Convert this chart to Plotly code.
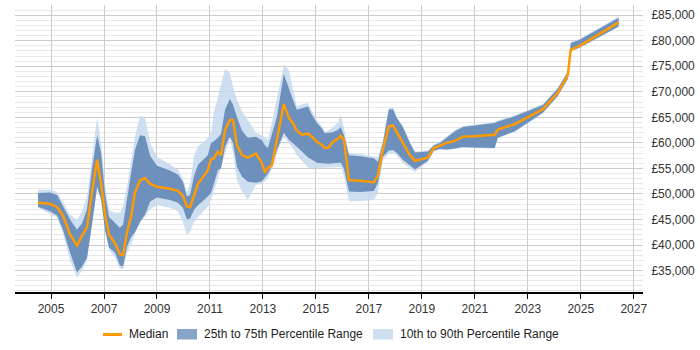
import plotly.graph_objects as go

years = [2004.51, 2004.96, 2005.23, 2005.45, 2005.72, 2005.98, 2006.17, 2006.36, 2006.55, 2006.74,
         2006.89, 2007.04, 2007.19, 2007.42, 2007.60, 2007.72, 2007.87, 2008.02, 2008.17, 2008.36,
         2008.55, 2008.74, 2009.00, 2009.49, 2009.79, 2009.98, 2010.13, 2010.25, 2010.40, 2010.55,
         2010.92, 2011.04, 2011.15, 2011.30, 2011.42, 2011.57, 2011.75, 2011.87, 2012.02, 2012.21,
         2012.43, 2012.74, 2012.96, 2013.08, 2013.19, 2013.34, 2013.53, 2013.79, 2013.98, 2014.13,
         2014.28, 2014.47, 2014.70, 2014.85, 2015.04, 2015.23, 2015.34, 2015.49, 2015.64, 2015.83,
         2015.94, 2016.06, 2016.25, 2016.66, 2017.19, 2017.34, 2017.53, 2017.75, 2017.91, 2018.06,
         2018.28, 2018.55, 2018.74, 2019.23, 2019.45, 2019.68, 2019.94, 2020.25, 2020.55, 2020.96,
         2021.75, 2021.87, 2022.51, 2023.57, 2024.13, 2024.51, 2024.62, 2024.96, 2026.43]

median = [48.3, 48.1, 47.4, 45.8, 42.0, 39.9, 41.8, 43.5, 50.5, 56.7,
          52.0, 46.0, 42.0, 40.3, 38.2, 38.0, 42.5, 45.5, 50.3, 52.7,
          53.1, 52.0, 51.4, 51.0, 50.6, 49.6, 47.6, 47.4, 49.7, 52.0,
          54.6, 56.8, 57.0, 58.3, 57.6, 62.5, 64.5, 64.5, 59.5, 57.6,
          57.1, 57.9, 56.1, 54.2, 55.1, 55.6, 60.6, 67.6, 64.9, 63.9,
          62.4, 61.6, 61.8, 61.2, 60.2, 59.6, 59.0, 59.1, 60.2, 60.8,
          61.4, 60.5, 52.7, 52.6, 52.3, 53.6, 58.7, 63.2, 63.4, 62.0,
          60.0, 57.6, 56.5, 57.1, 59.0, 59.5, 60.0, 60.4, 61.2, 61.3,
          61.6, 62.6, 63.7, 66.6, 69.8, 73.2, 78.2, 79.0, 83.6]

p25 = [47.5, 46.6, 45.8, 43.0, 38.5, 34.6, 35.8, 37.5, 44.0, 51.4,
       49.0, 43.0, 39.5, 38.5, 36.0, 35.8, 39.7, 41.5, 42.5, 44.5,
       46.0, 48.5, 49.3, 48.8, 48.3, 47.3, 45.0, 45.2, 46.9, 47.8,
       49.5, 50.2, 52.0, 54.7, 55.0, 59.2, 61.2, 60.0, 55.3, 53.4,
       52.4, 52.2, 52.5, 53.4, 54.0, 55.5, 58.6, 62.0, 60.6, 60.0,
       59.2, 58.3, 57.2, 56.7, 56.1, 56.0, 55.9, 55.9, 56.0, 56.1,
       56.1, 55.0, 50.5, 50.4, 50.6, 52.2, 57.3, 58.5, 58.6, 58.0,
       56.7, 55.6, 54.8, 56.5, 58.5, 58.8, 58.7, 58.9, 59.2, 59.1,
       59.0, 61.0, 62.3, 65.9, 69.2, 72.5, 78.0, 78.7, 82.8]

p75 = [50.2, 50.3, 49.8, 47.6, 45.0, 43.0, 44.2, 47.0, 55.0, 61.5,
       58.0, 50.0, 45.5, 44.3, 43.4, 44.0, 49.4, 54.0, 58.6, 61.5,
       61.3, 57.5, 55.5, 54.6, 53.8, 52.4, 49.5, 49.8, 53.5, 55.7,
       57.6, 60.0, 60.3, 61.0, 61.8, 66.5, 68.6, 67.5, 65.0, 62.4,
       61.0, 61.2, 60.5, 59.5, 59.0, 61.5, 65.1, 73.5, 70.6, 68.5,
       66.5, 66.8, 67.1, 65.5, 63.9, 62.8, 61.9, 62.0, 62.1, 62.5,
       63.1, 61.5, 57.6, 57.4, 57.0, 56.3, 60.0, 66.5, 66.6, 64.8,
       63.1, 60.0, 58.1, 58.3, 59.5, 60.0, 61.0, 62.3, 63.1, 63.4,
       63.9, 64.2, 65.2, 67.4, 70.6, 73.9, 79.5, 80.2, 84.5]

p10 = [47.3, 46.2, 45.4, 42.3, 37.0, 33.6, 35.0, 37.0, 45.0, 51.0,
       48.5, 43.0, 39.0, 37.5, 35.4, 35.2, 38.5, 40.0, 42.3, 44.5,
       45.6, 47.0, 47.8, 47.3, 46.6, 44.5, 42.0, 42.6, 44.5, 45.5,
       47.5, 48.8, 50.5, 53.0, 55.3, 58.0, 61.0, 58.0, 52.7, 50.5,
       48.8, 51.8, 52.0, 52.5, 53.1, 55.0, 58.0, 61.2, 60.0, 59.0,
       57.6, 56.6, 55.2, 55.1, 55.1, 55.1, 55.1, 55.1, 55.2, 55.3,
       55.3, 53.5, 48.5, 48.6, 48.8, 50.2, 56.7, 57.8, 58.0, 57.5,
       56.1, 55.0, 54.3, 56.3, 58.3, 58.7, 58.6, 58.8, 59.1, 59.0,
       58.9, 60.9, 62.2, 65.8, 69.1, 72.4, 77.9, 78.6, 82.7]

p90 = [50.8, 50.8, 50.4, 48.5, 46.0, 44.9, 46.5, 49.5, 57.5, 64.9,
       60.0, 52.0, 46.8, 46.3, 46.3, 47.5, 51.4, 56.5, 61.2, 65.3,
       65.0, 60.0, 57.3, 55.8, 54.8, 53.0, 50.3, 52.0, 57.5, 59.3,
       61.0, 62.0, 66.0, 69.0, 71.5, 74.5, 73.7, 71.0, 68.5, 66.2,
       64.5, 62.0, 61.5, 61.0, 60.6, 64.0, 69.0, 75.3, 74.3, 71.0,
       67.1, 67.5, 67.8, 66.3, 64.5, 63.2, 62.2, 62.5, 63.0, 64.0,
       65.5, 63.0, 58.0, 57.8, 57.4, 57.2, 60.5, 66.8, 67.0, 65.0,
       63.3, 60.3, 58.3, 58.5, 59.7, 60.2, 61.2, 62.5, 63.3, 63.6,
       64.1, 64.4, 65.4, 67.6, 70.8, 74.1, 79.7, 80.4, 84.7]

legend_labels = ["Median", "25th to 75th Percentile Range", "10th to 90th Percentile Range"]

k = lambda arr: [v * 1000 for v in arr]

LIGHT = "rgba(198,217,238,0.85)"
DARK = "rgba(96,133,180,0.88)"
ORANGE = "#ff9a00"
SW_DARK = "#87a5c8"
SW_LIGHT = "#cddff0"

fig = go.Figure()
fig.add_trace(go.Scatter(x=years, y=k(p90), mode="lines", line=dict(width=0, color=LIGHT),
                         showlegend=False, hoverinfo="skip"))
fig.add_trace(go.Scatter(x=years, y=k(p10), mode="lines", line=dict(width=0, color=LIGHT),
                         fill="tonexty", fillcolor=LIGHT, name=legend_labels[2], showlegend=False))
fig.add_trace(go.Scatter(x=years, y=k(p75), mode="lines", line=dict(width=0, color=DARK),
                         showlegend=False, hoverinfo="skip"))
fig.add_trace(go.Scatter(x=years, y=k(p25), mode="lines", line=dict(width=0, color=DARK),
                         fill="tonexty", fillcolor=DARK, name=legend_labels[1], showlegend=False))
fig.add_trace(go.Scatter(x=years, y=k(median), mode="lines", line=dict(width=2.5, color=ORANGE),
                         name=legend_labels[0], showlegend=False))

# Legend drawn below the plot (paper coordinates relative to the plot area)
PX0, PW, PY0, PH = 15, 628, 292, 287
px = lambda v: (v - PX0) / PW
py = lambda v: (PY0 - v) / PH

shapes = [
    dict(type="line", xref="paper", yref="paper", x0=px(103), x1=px(122), y0=py(334.5), y1=py(334.5),
         line=dict(color=ORANGE, width=3)),
    dict(type="rect", xref="paper", yref="paper", x0=px(177), x1=px(197), y0=py(339.5), y1=py(329),
         fillcolor=SW_DARK, line=dict(width=0)),
    dict(type="rect", xref="paper", yref="paper", x0=px(373), x1=px(393), y0=py(339.5), y1=py(329),
         fillcolor=SW_LIGHT, line=dict(width=0)),
]
annotations = [
    dict(xref="paper", yref="paper", x=px(xx), y=py(334), xanchor="left", yanchor="middle",
         text=t, showarrow=False, font=dict(size=12, color="#222222"))
    for xx, t in zip([127, 202, 398], legend_labels)
]

fig.update_layout(
    width=700, height=350,
    margin=dict(l=15, r=57, t=5, b=58),
    paper_bgcolor="white", plot_bgcolor="white",
    font=dict(family="Liberation Sans, Arial, sans-serif", size=12, color="#333333"),
    showlegend=False,
    shapes=shapes,
    annotations=annotations,
    xaxis=dict(range=[2003.64, 2027.35], tick0=2005, dtick=2, tickformat="d",
               showgrid=True, gridcolor="#cccccc", gridwidth=1,
               showline=True, linecolor="#000000", linewidth=1.5,
               ticks="outside", ticklen=5, tickcolor="#000000", zeroline=False),
    yaxis=dict(range=[30800, 87000], side="right", tick0=0, dtick=5000,
               tickprefix="£", tickformat=",d", showgrid=True, gridcolor="#cccccc",
               gridwidth=1, zeroline=False, showline=False,
               ticks="outside", ticklen=5, tickcolor="rgba(0,0,0,0)",
               minor=dict(dtick=1000, showgrid=True, gridcolor="#e8e8e8", gridwidth=1)),
)

fig.write_html("out.html")
